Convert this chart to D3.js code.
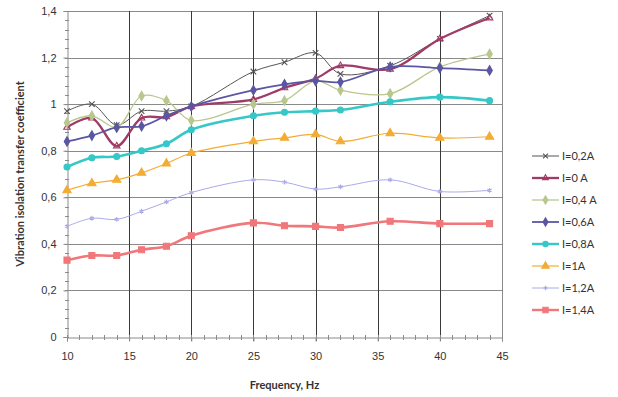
<!DOCTYPE html>
<html><head><meta charset="utf-8">
<script src="https://cdn.jsdelivr.net/npm/d3@7"></script>
<style>body{margin:0;background:#fff}svg{display:block;font-family:Lato,"Open Sans",sans-serif}</style>
</head><body><svg id="c" width="618" height="397"></svg>
<script>
const freq = [10,12,14,16,18,20,25,27.5,30,32,36,40,44];
const seriesNames = ["I=0,2A","I=0 A","I=0,4 A","I=0,6A","I=0,8A","I=1A","I=1,2A","I=1,4A"];
const i02 = [0.97,1.00,0.91,0.97,0.97,0.99,1.14,1.18,1.22,1.13,1.165,1.28,1.38];
const i00 = [0.90,0.94,0.82,0.94,0.945,0.99,1.02,1.07,1.11,1.165,1.15,1.28,1.37];
const i04 = [0.92,0.95,0.90,1.035,1.015,0.93,1.00,1.015,1.10,1.06,1.045,1.16,1.215];
const i06 = [0.84,0.865,0.90,0.905,0.95,0.99,1.06,1.085,1.10,1.095,1.16,1.155,1.145];
const i08 = [0.73,0.77,0.775,0.80,0.83,0.89,0.95,0.965,0.97,0.975,1.01,1.03,1.015];
const i10 = [0.63,0.66,0.675,0.705,0.745,0.79,0.84,0.855,0.87,0.84,0.875,0.855,0.86];
const i12 = [0.475,0.51,0.505,0.54,0.58,0.62,0.675,0.665,0.635,0.645,0.675,0.625,0.63];
const i14 = [0.33,0.35,0.35,0.375,0.39,0.435,0.49,0.478,0.475,0.47,0.497,0.487,0.487];
const xTicks = [10,15,20,25,30,35,40,45];
const yTicks = [0,0.2,0.4,0.6,0.8,1.0,1.2,1.4];
const yTickLabels = ["0","0,2","0,4","0,6","0,8","1","1,2","1,4"];

const values = [i02,i00,i04,i06,i08,i10,i12,i14];
const styles = [
  {color:"#555555", width:1, sym:d3.symbolX, size:22, fill:false},
  {color:"#a03a66", width:2.3, sym:d3.symbolTriangle, size:18, fill:false},
  {color:"#b9c78e", width:1.3, sym:d3.symbolDiamond, size:26, fill:true},
  {color:"#5a56a3", width:1.8, sym:d3.symbolDiamond, size:26, fill:true},
  {color:"#36c7c7", width:2.6, sym:d3.symbolCircle, size:28, fill:true},
  {color:"#f3ac34", width:1.2, sym:d3.symbolTriangle, size:30, fill:true},
  {color:"#aaaaea", width:1, sym:d3.symbolAsterisk, size:16, fill:false},
  {color:"#f0777a", width:2.6, sym:d3.symbolSquare, size:36, fill:true}
];

const svg = d3.select("#c");
const L=67, R=502, T=11, B=337;
const x = d3.scaleLinear().domain([10,45]).range([L,R]);
const y = d3.scaleLinear().domain([0,1.4]).range([B,T]);

svg.append("g").selectAll("line").data(yTicks.slice(1)).join("line")
  .attr("x1",L).attr("x2",R).attr("y1",d=>Math.round(y(d))+0.5).attr("y2",d=>Math.round(y(d))+0.5)
  .attr("stroke","#8a8a8a").attr("stroke-width",1);
svg.append("g").selectAll("line").data(xTicks.slice(1)).join("line")
  .attr("y1",T).attr("y2",B+4).attr("x1",d=>Math.round(x(d))+0.5).attr("x2",d=>Math.round(x(d))+0.5)
  .attr("stroke",d=>d===45?"#8a8a8a":"#3a3a3a").attr("stroke-width",1);

const yAxis = svg.append("g").attr("transform",`translate(${L+0.5},0)`)
  .call(d3.axisLeft(y).tickValues(yTicks).tickFormat((d,i)=>yTickLabels[i]).tickSize(4).tickPadding(7));
const xAxis = svg.append("g").attr("transform",`translate(0,${B+0.5})`)
  .call(d3.axisBottom(x).tickValues(xTicks).tickSize(4).tickPadding(11));
[yAxis,xAxis].forEach(a=>{
  a.select(".domain").attr("stroke","#8a8a8a");
  a.selectAll(".tick line").attr("stroke","#8a8a8a");
  a.selectAll("text").attr("fill","#333").attr("font-size",11);
});
const yMinor = d3.range(0,1.4001,0.04);
svg.append("g").selectAll("line").data(yMinor).join("line")
  .attr("x1",L-2).attr("x2",L+2).attr("y1",d=>Math.round(y(d))+0.5).attr("y2",d=>Math.round(y(d))+0.5)
  .attr("stroke","#8a8a8a");
const xMinor = d3.range(10,45.01,1);
svg.append("g").selectAll("line").data(xMinor).join("line")
  .attr("y1",B-2).attr("y2",B+3).attr("x1",d=>Math.round(x(d))+0.5).attr("x2",d=>Math.round(x(d))+0.5)
  .attr("stroke","#8a8a8a");

const line = d3.line().x(d=>x(d[0])).y(d=>y(d[1])).curve(d3.curveCatmullRom.alpha(0.5));
values.forEach((vals,si)=>{
  const st = styles[si];
  const pts = freq.map((f,i)=>[f,vals[i]]);
  const g = svg.append("g");
  g.append("path").attr("d",line(pts)).attr("fill","none").attr("stroke",st.color).attr("stroke-width",st.width);
  const sym = d3.symbol().type(st.sym).size(st.size);
  g.selectAll("path.m").data(pts).join("path").attr("class","m")
    .attr("transform",d=>`translate(${x(d[0])},${y(d[1])})`).attr("d",sym())
    .attr("fill",st.fill?st.color:"none").attr("stroke",st.color).attr("stroke-width",1.1);
});

const lg = svg.append("g");
seriesNames.forEach((n,i)=>{
  const st = styles[i];
  const yy = 156 + i*22;
  lg.append("line").attr("x1",532).attr("x2",559).attr("y1",yy).attr("y2",yy)
    .attr("stroke",st.color).attr("stroke-width",Math.min(st.width,2.4));
  lg.append("path").attr("transform",`translate(545.5,${yy})`).attr("d",d3.symbol().type(st.sym).size(st.size*0.8)())
    .attr("fill",st.fill?st.color:"none").attr("stroke",st.color).attr("stroke-width",1.1);
  lg.append("text").attr("x",562).attr("y",yy+4).attr("font-size",11).attr("fill","#333").text(n);
});

svg.append("text").attr("x",(L+R)/2).attr("y",389).attr("text-anchor","middle")
  .attr("font-size",11).attr("font-weight","bold").attr("fill","#333").text("Frequency, Hz");
svg.append("text").attr("transform",`translate(24,${(T+B)/2}) rotate(-90)`).attr("text-anchor","middle")
  .attr("font-size",11).attr("font-weight","bold").attr("fill","#333").text("Vibration isolation transfer coefficient");
</script></body></html>
